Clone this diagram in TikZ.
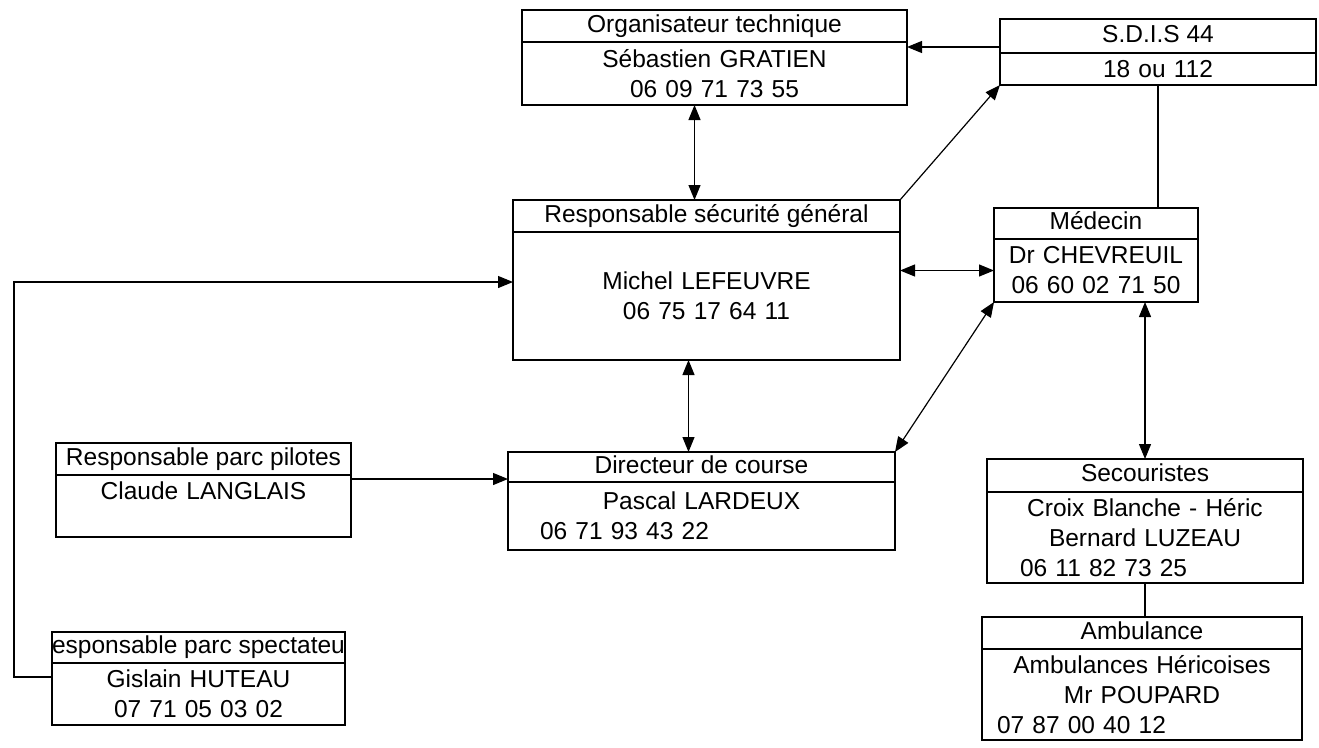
\documentclass[tikz,border=0pt]{standalone}
\usepackage{fontspec}
\setmainfont{Liberation Sans}
\usetikzlibrary{arrows.meta,positioning}

\begin{document}
\begin{tikzpicture}[x=1pt,y=-1pt,font=\fontsize{24.5}{30}\selectfont,
    tete/.style={draw,line width=1.4pt,inner sep=0pt,outer sep=0pt,anchor=north west,text height=17pt,text depth=5pt},
    corps/.style={draw,line width=1.4pt,inner sep=0pt,outer sep=0pt,align=center},
    lien/.style={line width=1.2pt},
    fleche/.style={lien,-{Triangle[length=15pt,width=12pt]}},
    fleche2/.style={lien,{Triangle[length=15pt,width=12pt]}-{Triangle[length=15pt,width=12pt]}}]
  \fill[white] (0,0) rectangle (1319,747);
  \useasboundingbox (0,0) rectangle (1319,747);

  % boxes
  \node[tete,minimum width=385pt,minimum height=32pt] (orgT) at (522,10) {Organisateur technique};
  \node[corps,text width=385pt,minimum height=63pt,below=0pt of orgT] (orgB) {Sébastien GRATIEN\\06 09 71 73 55};

  \node[tete,minimum width=316pt,minimum height=34pt] (sdisT) at (1000,19) {S.D.I.S 44};
  \node[corps,text width=316pt,minimum height=32pt,below=0pt of sdisT] (sdisB) {18 ou 112};

  \node[tete,minimum width=387pt,minimum height=32pt] (respT) at (513,200) {Responsable sécurité général};
  \node[corps,text width=387pt,minimum height=128pt,below=0pt of respT] (respB) {Michel LEFEUVRE\\06 75 17 64 11};

  \node[tete,minimum width=204pt,minimum height=31pt] (medT) at (994,208) {Médecin};
  \node[corps,text width=204pt,minimum height=63pt,below=0pt of medT] (medB) {Dr CHEVREUIL\\06 60 02 71 50};

  \node[tete,minimum width=387pt,minimum height=30pt] (dirT) at (508,452) {Directeur de course};
  \node[corps,text width=387pt,minimum height=68pt,below=0pt of dirT] (dirB) {Pascal LARDEUX\\\hspace*{32pt}06 71 93 43 22\hfill\null};

  \node[tete,minimum width=295pt,minimum height=32pt] (pilT) at (56,443) {Responsable parc pilotes};
  \node[corps,text width=295pt,minimum height=62pt,below=0pt of pilT] (pilB) {Claude LANGLAIS\\\mbox{}};

  \node[tete,minimum width=316pt,minimum height=33pt] (secT) at (987,459) {Secouristes};
  \node[corps,text width=316pt,minimum height=91pt,below=0pt of secT] (secB) {Croix Blanche - Héric\\Bernard LUZEAU\\\hspace*{33pt}06 11 82 73 25\hfill\null};

  \node[tete,minimum width=320pt,minimum height=32pt] (ambT) at (982,617) {Ambulance};
  \node[corps,text width=320pt,minimum height=91pt,below=0pt of ambT] (ambB) {Ambulances Héricoises\\Mr POUPARD\\\hspace*{15pt}07 87 00 40 12\hfill\null};

  \node[tete,minimum width=293pt,minimum height=31pt] (speT) at (52,632) {esponsable parc spectateu};
  \node[corps,text width=293pt,minimum height=62pt,below=0pt of speT] (speB) {Gislain HUTEAU\\07 71 05 03 02};

  % connectors
  \coordinate (sdisA) at ([yshift=6pt]sdisT.south west);
  \coordinate (orgA) at ([xshift=-20pt]orgB.south);
  \coordinate (dirA) at ([xshift=-13pt]dirT.north);
  \coordinate (pilA) at ([yshift=-4pt]pilT.south east);
  \coordinate (speA) at ([yshift=17pt]speB.west);
  \coordinate (respA) at ([yshift=14pt]respB.west);
  \coordinate (bord) at (14,0);

  \draw[fleche] (sdisA) -- (sdisA -| orgB.east);
  \draw[fleche2] (orgA) -- (orgA |- respT.north);
  \draw[fleche] (respT.north east) -- (sdisB.south west);
  \draw[lien] (sdisB.south) -- (sdisB.south |- medT.north);
  \draw[fleche2] (medB.west) -- (medB.west -| respB.east);
  \draw[fleche2] (respB.south -| dirA) -- (dirA);
  \draw[fleche2] (medB.south west) -- (dirT.north east);
  \draw[fleche2] (secT.north |- medB.south) -- (secT.north);
  \draw[lien] (secB.south) -- (secB.south |- ambT.north);
  \draw[fleche] (pilA) -- (pilA -| dirT.west);
  \draw[fleche] (speA) -- (speA -| bord) |- (respA);
\end{tikzpicture}
\end{document}
